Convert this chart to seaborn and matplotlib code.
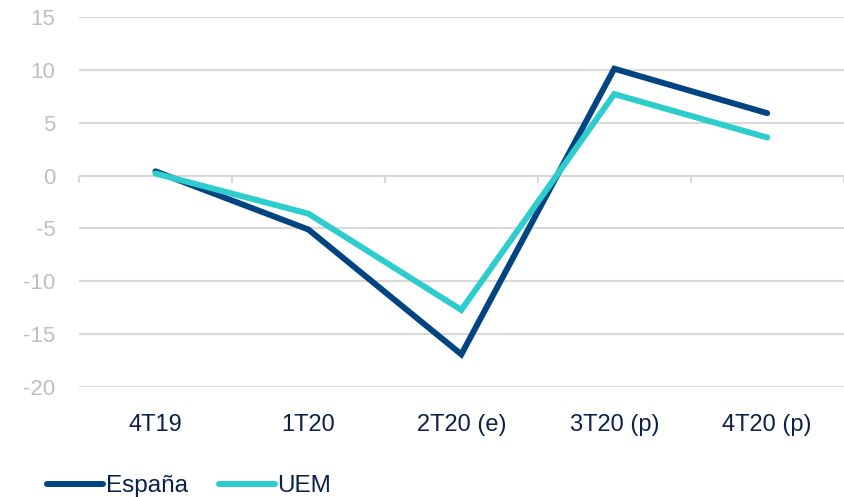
import pandas as pd
import matplotlib.pyplot as plt
import seaborn as sns

# --- Data ---
quarters = ['4T19', '1T20', '2T20 (e)', '3T20 (p)', '4T20 (p)']
espana = [0.4, -5.1, -16.9, 10.1, 5.9]
uem = [0.2, -3.6, -12.7, 7.7, 3.6]

df = pd.DataFrame({
    'pos': list(range(len(quarters))) * 2,
    'value': espana + uem,
    'serie': ['España'] * len(quarters) + ['UEM'] * len(quarters),
})

sns.set_style('white')
plt.rcParams['font.family'] = ['Liberation Sans', 'DejaVu Sans']
plt.rcParams['axes.unicode_minus'] = False

fig = plt.figure(figsize=(8.44, 4.97), dpi=100)
ax = fig.add_axes([0.0936, 0.221, 0.906, 0.745])

sns.lineplot(data=df, x='pos', y='value', hue='serie',
             palette={'España': '#004481', 'UEM': '#2DCCCD'},
             linewidth=4.3, ax=ax, legend=False, sort=False)
for line in ax.lines:
    line.set_solid_capstyle('round')
    line.set_solid_joinstyle('miter')

ax.set_xlim(-0.5, len(quarters) - 0.5)
ax.set_ylim(-20, 15)
ax.set_yticks(range(-20, 16, 5))
ax.yaxis.grid(True, color='#d9d9d9', linewidth=1.5)
ax.set_axisbelow(True)
for s in ax.spines.values():
    s.set_visible(False)

ax.set_xticks(range(len(quarters)))
ax.set_xticklabels(quarters)
ax.tick_params(axis='x', length=0, pad=19, labelsize=17, labelcolor='#0b2148')
ax.tick_params(axis='y', length=0, pad=17, labelsize=16, labelcolor='#bfbfbf')
ax.set_xlabel('')
ax.set_ylabel('')

# boundary tick marks hanging below the zero line
zero_frac = 20 / 35
bounds = [i - 0.5 for i in range(len(quarters) + 1)]
ax.vlines(bounds, zero_frac - 0.019, zero_frac, transform=ax.get_xaxis_transform(),
          color='#d9d9d9', linewidth=1.5, zorder=0.5, clip_on=False)

handles = [plt.Line2D([], [], color='#004481', linewidth=4.3, solid_capstyle='round'),
           plt.Line2D([], [], color='#2DCCCD', linewidth=4.3, solid_capstyle='round')]
fig.legend(handles, ['España', 'UEM'], loc='lower left', bbox_to_anchor=(0.03, -0.045),
           ncol=2, frameon=False, fontsize=17.5, handlelength=2.3, handletextpad=0.1,
           columnspacing=1.3, labelcolor='#0b2148')

fig.savefig('out.png', dpi=100)
